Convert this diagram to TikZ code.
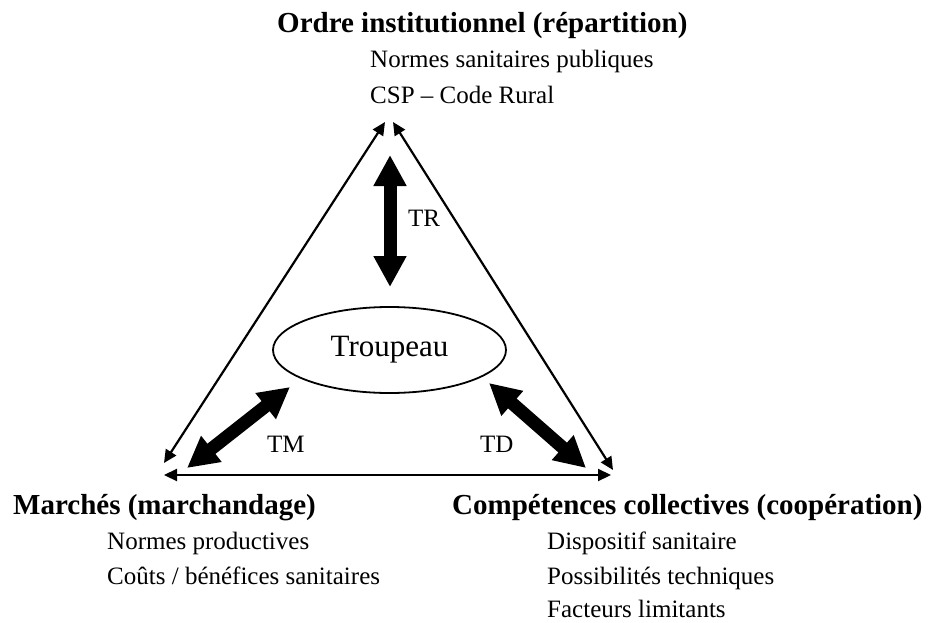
\documentclass[tikz,border=0pt]{standalone}
\usepackage{fontspec}
\setmainfont{Liberation Serif}
\usepackage{tikz}
\usetikzlibrary{arrows.meta}
\usetikzlibrary{shapes}

\begin{document}
\begin{tikzpicture}[x=1pt, y=-1pt,
  head/.style={inner sep=0, anchor=base west, font=\fontsize{29}{34}\bfseries},
  item/.style={inner sep=0, anchor=base west, font=\fontsize{25}{30}\selectfont},
  side/.style={line width=2.2pt, {Triangle[length=13pt, width=12pt]}-{Triangle[length=13pt, width=12pt]}},
  link/.style={line width=13pt, {Triangle[length=31pt, width=31pt]}-{Triangle[length=31pt, width=31pt]}}]

\useasboundingbox (0,0) rectangle (931,623);

% Define nodes
\node (ordre) [head] at (277,33) {Ordre institutionnel (répartition)};
\node (ordre1) [item] at (370,68) {Normes sanitaires publiques};
\node (ordre2) [item] at (370,103) {CSP – Code Rural};

\node (marche) [head] at (13,514) {Marchés (marchandage)};
\node (marche1) [item] at (107,549) {Normes productives};
\node (marche2) [item] at (107,584) {Coûts / bénéfices sanitaires};

\node (comp) [head] at (452,514) {Compétences collectives (coopération)};
\node (comp1) [item] at (547,549) {Dispositif sanitaire};
\node (comp2) [item] at (547,584) {Possibilités techniques};
\node (comp3) [item] at (547,617) {Facteurs limitants};

\node (troupeau) [ellipse, draw, line width=1.8pt, minimum width=233pt, minimum height=86pt,
  font=\fontsize{31}{36}\selectfont] at (389.5,350) {Troupeau};

% Corners of the triangle
\coordinate (topL) at (385,122);
\coordinate (topR) at (393,122);
\coordinate (botL) at (164,463);
\coordinate (botL2) at (164,475);
\coordinate (botR) at (613,470);
\coordinate (botR2) at (611,475);

% Ends of the thick arrows
\coordinate (trA) at (390,155);
\coordinate (trB) at (390,287);
\coordinate (tmA) at (187,468);
\coordinate (tmB) at (290,387);
\coordinate (tdA) at (489,383);
\coordinate (tdB) at (586,468);

% Draw edges of the triangle
\draw [side] (botL) -- (topL);
\draw [side] (topR) -- (botR);
\draw [side] (botL2) -- (botR2);

% Draw links to the herd
\draw [link] (trA) -- (trB);
\draw [link] (tmA) -- (tmB);
\draw [link] (tdA) -- (tdB);

\node (tr) [item] at (408,226) {TR};
\node (tm) [item] at (267,452) {TM};
\node (td) [item] at (480,452) {TD};

\end{tikzpicture}
\end{document}
